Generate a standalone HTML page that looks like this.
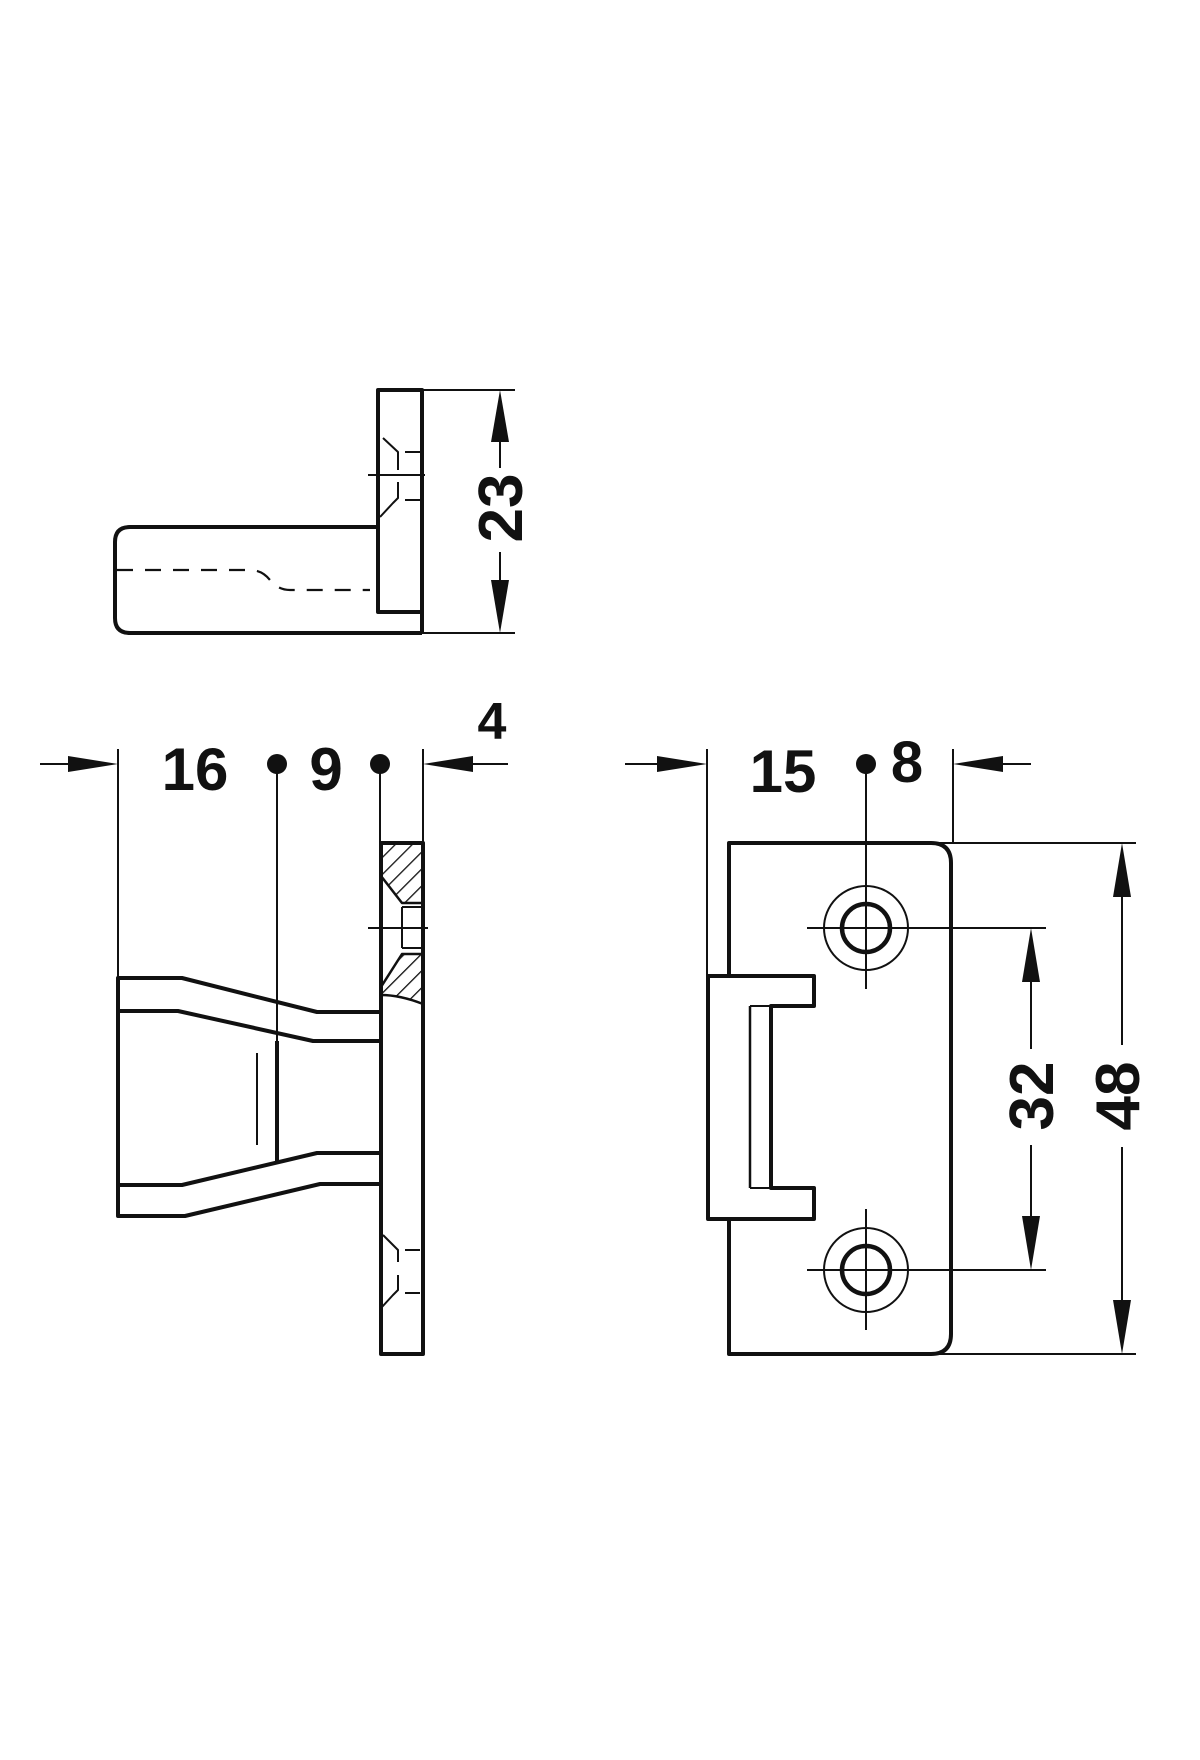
<!DOCTYPE html>
<html><head><meta charset="utf-8"><style>
html,body{margin:0;padding:0;background:#fff;}
svg{display:block;}
text{font-family:"Liberation Sans",sans-serif;font-weight:bold;fill:#111;}
</style></head><body>
<svg width="1200" height="1760" viewBox="0 0 1200 1760" xmlns="http://www.w3.org/2000/svg">
<defs>
<pattern id="h" width="12" height="12" patternUnits="userSpaceOnUse" patternTransform="rotate(45)">
<rect width="12" height="12" fill="#fff"/><line x1="0" y1="0" x2="0" y2="12" stroke="#111" stroke-width="2.6"/>
</pattern>
</defs>
<g fill="none" stroke="#111" stroke-linejoin="round">
<!-- TOP VIEW -->
<path d="M378 527 H130 Q115 527 115 542 V618 Q115 633 130 633 H422" stroke-width="4"/>
<rect x="378" y="390" width="44" height="222" stroke-width="4"/>
<line x1="422" y1="612" x2="422" y2="633" stroke-width="4"/>
<path d="M117 570 H250 Q262 570 270 580 Q278 590 290 590 H370" stroke-width="2.2" stroke-dasharray="16 12"/>
<g stroke-width="2">
<path d="M383 438 L398 452 V470"/><path d="M398 482 V498 L393 503 L380 517"/>
<line x1="405" y1="452" x2="420" y2="452"/><line x1="405" y1="500" x2="420" y2="500"/>
<line x1="368" y1="475" x2="425" y2="475"/>
<line x1="422" y1="390" x2="515" y2="390"/><line x1="422" y1="633" x2="515" y2="633"/>
<line x1="500" y1="440" x2="500" y2="468"/><line x1="500" y1="552" x2="500" y2="582"/>
</g>
<!-- SIDE VIEW -->
<g stroke-width="2">
<line x1="118" y1="749" x2="118" y2="978"/><line x1="423" y1="749" x2="423" y2="843"/>
<line x1="40" y1="764" x2="70" y2="764"/><line x1="470" y1="764" x2="508" y2="764"/>
<line x1="277" y1="764" x2="277" y2="1162"/><line x1="380" y1="764" x2="380" y2="843"/>
<line x1="257" y1="1053" x2="257" y2="1145"/>
<line x1="368" y1="928" x2="428" y2="928"/>
<line x1="402" y1="907" x2="423" y2="907"/><line x1="402" y1="948" x2="423" y2="948"/>
<line x1="402" y1="907" x2="402" y2="948"/>
<path d="M383 1235 L398 1250 V1262"/><path d="M398 1275 V1290 L393 1295 L382 1307"/>
<line x1="405" y1="1250" x2="420" y2="1250"/><line x1="405" y1="1293" x2="420" y2="1293"/>
</g>
<path d="M381 843 H423 V903 H402 L381 876 Z" fill="url(#h)" stroke-width="2.5"/>
<path d="M381 987 L402 954 H423 V1004 Q400 995 381 995 Z" fill="url(#h)" stroke-width="2.5"/>
<rect x="381" y="843" width="42" height="511" stroke-width="4"/>
<g stroke-width="4">
<path d="M381 1012 H317 L182 978 H118 V1216 H185 L320 1184 H381"/>
<path d="M118 1011 H178 L313 1041 H381"/>
<path d="M118 1185 H182 L317 1153 H381"/>
<line x1="277" y1="1041" x2="277" y2="1162"/>
</g>
<!-- FRONT VIEW -->
<g stroke-width="2">
<line x1="707" y1="749" x2="707" y2="976"/><line x1="953" y1="749" x2="953" y2="843"/>
<line x1="625" y1="764" x2="660" y2="764"/><line x1="1000" y1="764" x2="1031" y2="764"/>
<line x1="866" y1="764" x2="866" y2="989"/>
<line x1="930" y1="843" x2="1136" y2="843"/><line x1="930" y1="1354" x2="1136" y2="1354"/>
<line x1="807" y1="928" x2="1046" y2="928"/><line x1="807" y1="1270" x2="1046" y2="1270"/>
<line x1="866" y1="1209" x2="866" y2="1330"/>
<line x1="1031" y1="980" x2="1031" y2="1049"/><line x1="1031" y1="1145" x2="1031" y2="1218"/>
<line x1="1122" y1="895" x2="1122" y2="1045"/><line x1="1122" y1="1147" x2="1122" y2="1302"/>
<circle cx="866" cy="928" r="42"/><circle cx="866" cy="1270" r="42"/>
</g>
<circle cx="866" cy="928" r="24" stroke-width="4.5"/><circle cx="866" cy="1270" r="24" stroke-width="4.5"/>
<path d="M729 976 V843 H931 Q951 843 951 863 V1334 Q951 1354 931 1354 H729 V1219" stroke-width="4"/>
<path d="M708 976 H814 V1006 H771 V1188 H814 V1219 H708 Z" stroke-width="4"/>
<line x1="750" y1="1006" x2="750" y2="1188" stroke-width="2.5"/>
<line x1="750" y1="1006" x2="771" y2="1006" stroke-width="2"/>
<line x1="750" y1="1188" x2="771" y2="1188" stroke-width="2"/>
</g>
<g fill="#111">
<path d="M500 390 L491 442 H509 Z"/><path d="M500 633 L491 580 H509 Z"/>
<path d="M118 764 L68 756 V772 Z"/><path d="M423 764 L473 756 V772 Z"/>
<path d="M707 764 L657 756 V772 Z"/><path d="M953 764 L1003 756 V772 Z"/>
<path d="M1031 928 L1022 982 H1040 Z"/><path d="M1031 1270 L1022 1216 H1040 Z"/>
<path d="M1122 843 L1113 897 H1131 Z"/><path d="M1122 1354 L1113 1300 H1131 Z"/>
<circle cx="277" cy="764" r="10"/><circle cx="380" cy="764" r="10"/><circle cx="866" cy="764" r="10"/>
</g>
<text x="195" y="790" font-size="60" text-anchor="middle">16</text>
<text x="326" y="790" font-size="60" text-anchor="middle">9</text>
<text x="492" y="739" font-size="52" text-anchor="middle">4</text>
<text x="783" y="792" font-size="60" text-anchor="middle">15</text>
<text x="907" y="782" font-size="58" text-anchor="middle">8</text>
<text transform="translate(522,508) rotate(-90)" font-size="62" text-anchor="middle">23</text>
<text transform="translate(1053,1096) rotate(-90)" font-size="62" text-anchor="middle">32</text>
<text transform="translate(1139,1096) rotate(-90)" font-size="62" text-anchor="middle">48</text>
</svg>
</body></html>
